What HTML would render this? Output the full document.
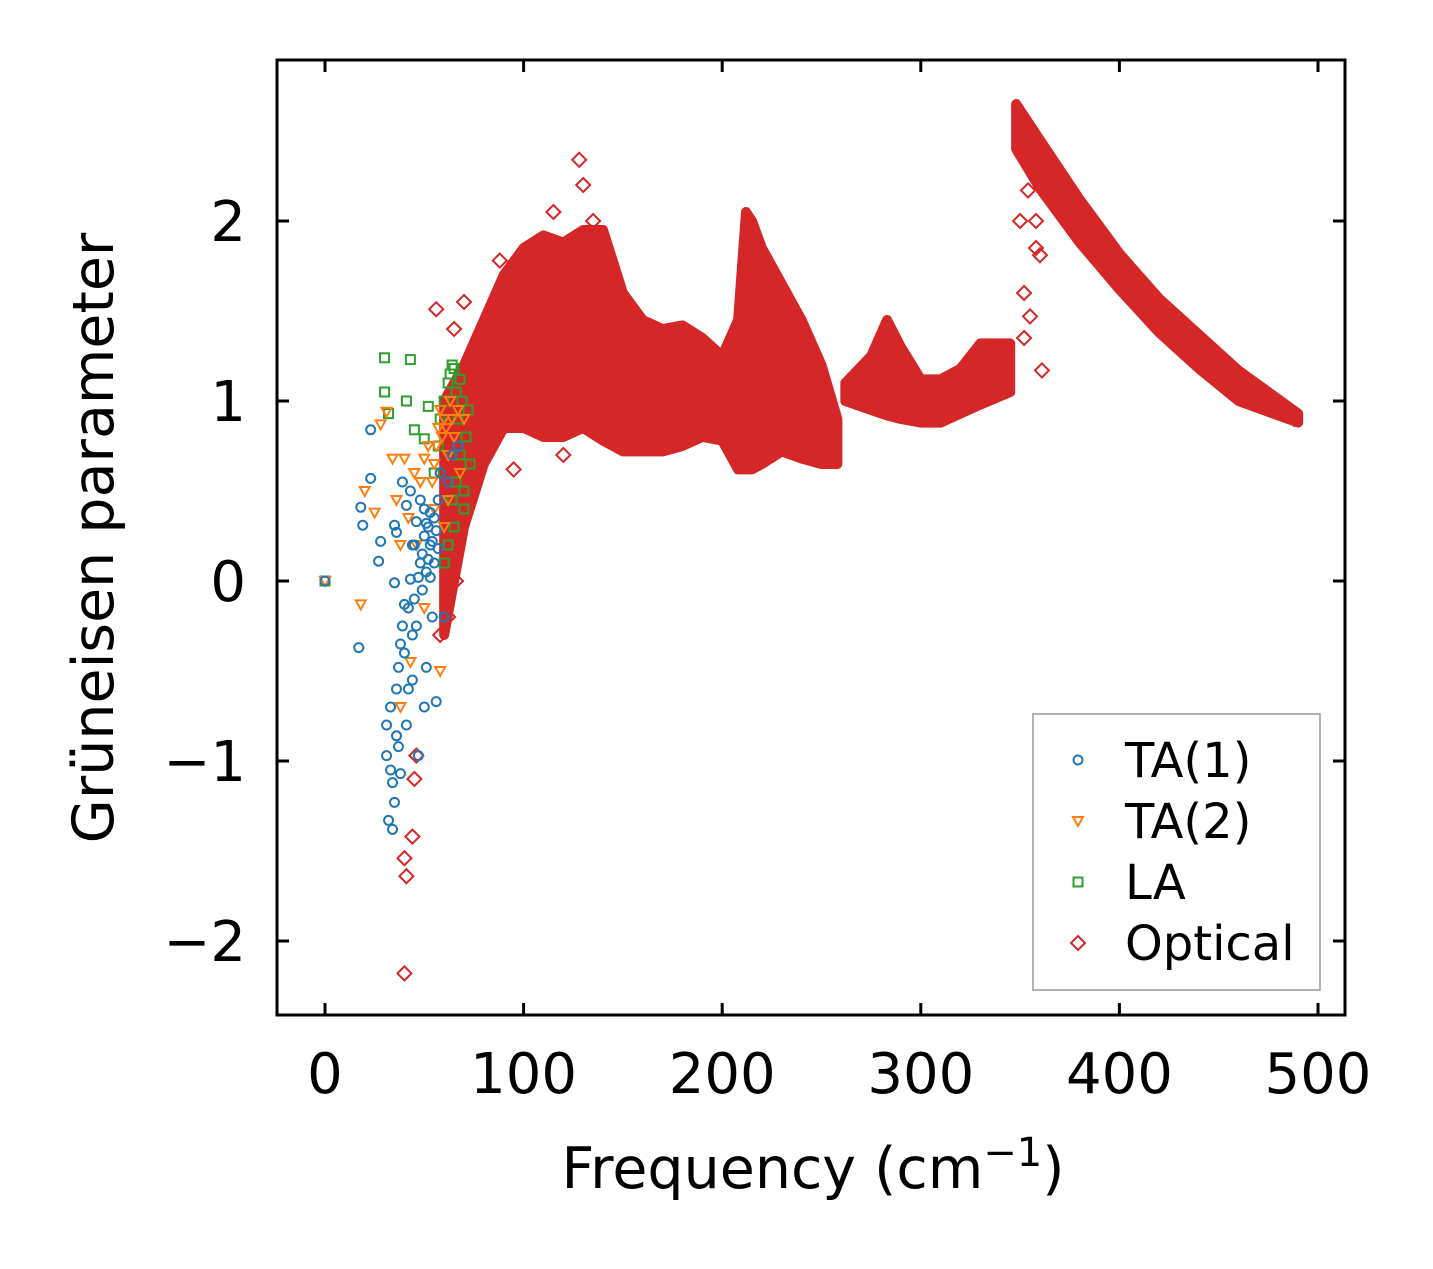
<!DOCTYPE html>
<html><head><meta charset="utf-8"><style>
html,body{margin:0;padding:0;background:#fff;}
svg text{font-family:"DejaVu Sans","Liberation Sans",sans-serif;fill:#000;}
</style></head><body>
<svg id="chart" width="1433" height="1264" viewBox="0 0 1433 1264" xmlns="http://www.w3.org/2000/svg">
<rect width="1433" height="1264" fill="#fff"/>
<g id="plot"></g>
</svg>
<script>
const xTicks=[0,100,200,300,400,500];
const yTicks=[-2,-1,0,1,2];
const yTickLabels=["\u22122","\u22121","0","1","2"];
// TA(1) points [freq, gamma]
const ta1=[[0,0],[17,-0.37],[18,0.41],[19,0.31],[23,0.84],[23,0.57],[27,0.11],[28,0.22],[31,-0.97],[31,-0.8],[32,-1.33],[33,-1.05],[33,-0.7],[34,-1.38],[34,-1.12],[35,-0.01],[35,0.31],[35,-1.23],[36,-0.86],[36,-0.6],[36,0.27],[37,-0.48],[37,-0.92],[38,-0.35],[38,-1.07],[39,-0.25],[39,0.55],[40,-0.4],[40,-0.13],[41,0.42],[41,-0.8],[42,-0.6],[43,0.01],[43,0.5],[44,-0.55],[44,0.2],[45,-0.1],[46,0.33],[46,-0.25],[47,-0.97],[48,0.1],[48,0.45],[50,-0.7],[50,0.25],[51,-0.48],[51,0.05],[52,0.3],[53,0.2],[54,-0.2],[55,0.35],[56,-0.67],[57,0.45],[58,0.6],[60,-0.2],[62,0.55],[64,0.7],[67,0.75],[49,0.15],[50,0.4],[52,0.12],[53,0.38],[54,0.22],[55,0.1],[56,0.28],[57,0.18],[51,0.32],[53,0.02],[49,-0.05],[47,0.02],[45,0.2],[44,-0.3],[42,-0.15]];
// TA(2) points
const ta2=[[0,0],[18,-0.13],[20,0.5],[25,0.38],[28,0.87],[31,0.94],[34,0.68],[36,0.45],[38,0.2],[38,-0.7],[40,0.68],[42,0.35],[43,-0.45],[45,0.6],[46,0.2],[48,0.55],[50,0.68],[50,-0.15],[52,0.75],[55,0.65],[55,0.4],[57,0.85],[58,-0.5],[58,0.95],[60,0.9],[60,0.3],[62,0.7],[63,1.0],[65,0.8],[67,0.95],[68,0.6],[70,0.9],[59,0.8],[61,0.85],[62,0.45],[64,0.9],[56,0.75],[54,0.55]];
// LA points
const la=[[0,0],[30,1.24],[30,1.05],[32,0.93],[41,1.0],[43,1.23],[45,0.84],[50,0.79],[52,0.97],[55,0.6],[57,0.75],[58,0.9],[60,1.0],[62,1.1],[63,1.15],[64,1.2],[65,1.18],[66,1.05],[67,0.9],[68,0.7],[70,0.5],[72,0.95],[73,0.65],[65,0.3],[62,0.2],[60,0.1],[70,0.4],[68,1.12],[66,0.55],[69,1.0],[71,0.8],[64,0.45]];
// Optical dense bands: frequency, upper and lower envelope
const optAFreq=[60,70,80,90,100,110,120,130,140,150,160,170,180,190,200,208,212,215,220,230,240,250,258];
const optAUpper=[1.0,1.2,1.45,1.7,1.85,1.92,1.88,1.95,1.95,1.6,1.45,1.4,1.42,1.35,1.25,1.45,2.05,2.0,1.85,1.65,1.45,1.2,0.9];
const optALower=[-0.3,0.3,0.65,0.85,0.85,0.8,0.8,0.85,0.78,0.72,0.72,0.72,0.75,0.8,0.78,0.62,0.62,0.62,0.65,0.72,0.68,0.65,0.65];
const optBFreq=[262,275,283,290,300,310,320,330,345];
const optBUpper=[1.1,1.25,1.45,1.3,1.12,1.12,1.18,1.32,1.32];
const optBLower=[1.0,0.95,0.92,0.9,0.88,0.88,0.93,0.98,1.05];
const optCFreq=[348,360,380,400,420,440,460,490];
const optCUpper=[2.65,2.45,2.12,1.82,1.57,1.37,1.17,0.93];
const optCLower=[2.4,2.18,1.88,1.62,1.38,1.18,1.0,0.88];
// Optical outliers
const optOut=[[40,-2.18],[41,-1.64],[40,-1.54],[44,-1.42],[45,-1.1],[46,-0.97],[56,1.51],[65,1.4],[70,1.55],[128,2.34],[130,2.2],[95,0.62],[120,0.7],[360,1.81],[358,1.85],[352,1.6],[350,2.0],[354,2.17],[358,2.0],[361,1.17],[355,1.47],[352,1.35],[62,-0.2],[58,-0.3],[66,0.0],[135,2.0],[115,2.05],[88,1.78],[488,0.9]];

const L=277,R=1345,T=60,B=1015;
const X=v=>325+v*1.986;
const Y=v=>581-v*180;
const NS="http://www.w3.org/2000/svg";
const g=document.getElementById('plot');
function mk(tag,attrs,parent){const e=document.createElementNS(NS,tag);for(const k in attrs)e.setAttribute(k,attrs[k]);(parent||g).appendChild(e);return e;}
const red="#d62728";
function band(fr,up,lo,name){
  let pts=fr.map((f,i)=>X(f)+","+Y(up[i]));
  for(let i=fr.length-1;i>=0;i--)pts.push(X(fr[i])+","+Y(lo[i]));
  const p=mk('polygon',{points:pts.join(' '),fill:red,stroke:red,'stroke-width':10,'stroke-linejoin':'round'});
  
  
}
band(optAFreq,optAUpper,optALower,'optical-band-low');
band(optBFreq,optBUpper,optBLower,'optical-band-mid');
band(optCFreq,optCUpper,optCLower,'optical-band-high');
optOut.forEach(d=>{const x=X(d[0]),y=Y(d[1]);
  const p=mk('polygon',{points:`${x},${y-7} ${x+7},${y} ${x},${y+7} ${x-7},${y}`,fill:'none',stroke:red,'stroke-width':2});
  
  });
la.forEach(d=>{const x=X(d[0]),y=Y(d[1]);
  const p=mk('rect',{x:x-4.5,y:y-4.5,width:9,height:9,fill:'none',stroke:'#2ca02c','stroke-width':2});
  
  });
ta2.forEach(d=>{const x=X(d[0]),y=Y(d[1]);
  const p=mk('polygon',{points:`${x-5},${y-4} ${x+5},${y-4} ${x},${y+5}`,fill:'none',stroke:'#ff7f0e','stroke-width':2});
  
  });
ta1.forEach(d=>{const p=mk('circle',{cx:X(d[0]),cy:Y(d[1]),r:4.5,fill:'none',stroke:'#1f77b4','stroke-width':2});
  
  });
// frame
const fr=mk('rect',{x:L,y:T,width:R-L,height:B-T,fill:'none',stroke:'#000','stroke-width':3});


xTicks.forEach(v=>{const x=X(v);
  mk('line',{x1:x,y1:B,x2:x,y2:B-12,stroke:'#000','stroke-width':3});
  mk('line',{x1:x,y1:T,x2:x,y2:T+12,stroke:'#000','stroke-width':3});
  const t=mk('text',{x:x,y:1093,'font-size':56,'text-anchor':'middle'});t.textContent=v;
  
  });
yTicks.forEach((v,i)=>{const y=Y(v);
  mk('line',{x1:L,y1:y,x2:L+12,y2:y,stroke:'#000','stroke-width':3});
  mk('line',{x1:R,y1:y,x2:R-12,y2:y,stroke:'#000','stroke-width':3});
  const t=mk('text',{x:246,y:y+20,'font-size':56,'text-anchor':'end'});t.textContent=yTickLabels[i];
  
  });
const xt=mk('text',{x:813,y:1188,'font-size':57,'text-anchor':'middle'});
xt.innerHTML='Frequency (cm<tspan dy="-22" font-size="40">\u22121</tspan><tspan dy="22">)</tspan>';


const yt=mk('text',{x:0,y:0,'font-size':57,'text-anchor':'middle',transform:'translate(113,538) rotate(-90)'});
yt.textContent='Grüneisen parameter';


// legend
const lg=mk('g',{});


mk('rect',{x:1033,y:714,width:287,height:276,fill:'#fff',stroke:'#999','stroke-width':1.5},lg);
const entries=[['TA(1)','c','#1f77b4'],['TA(2)','t','#ff7f0e'],['LA','s','#2ca02c'],['Optical','d',red]];
entries.forEach((e,i)=>{const y=760+i*61,x=1078;
  const eg=mk('g',{},lg);
  
  
  if(e[1]=='c')mk('circle',{cx:x,cy:y,r:4.5,fill:'none',stroke:e[2],'stroke-width':2},eg);
  if(e[1]=='t')mk('polygon',{points:`${x-5},${y-4} ${x+5},${y-4} ${x},${y+5}`,fill:'none',stroke:e[2],'stroke-width':2},eg);
  if(e[1]=='s')mk('rect',{x:x-4.5,y:y-4.5,width:9,height:9,fill:'none',stroke:e[2],'stroke-width':2},eg);
  if(e[1]=='d')mk('polygon',{points:`${x},${y-7} ${x+7},${y} ${x},${y+7} ${x-7},${y}`,fill:'none',stroke:e[2],'stroke-width':2},eg);
  const t=mk('text',{x:1125,y:y+17,'font-size':48},eg);t.textContent=e[0];});
</script>
</body></html>
